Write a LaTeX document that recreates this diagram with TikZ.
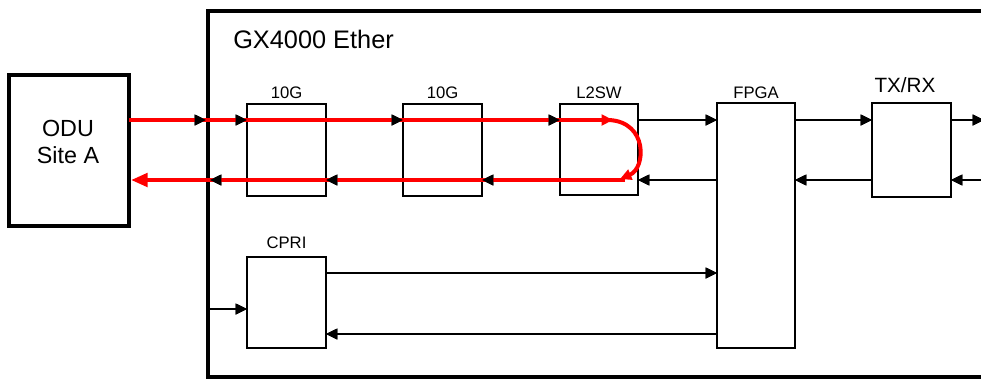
\documentclass[tikz,border=0pt]{standalone}
\usepackage{fontspec}
\setmainfont{Liberation Sans}
\usetikzlibrary{arrows.meta,calc}
\newcommand\blkconn[1]{%
  \draw[#1] (odu.east|-rt) -- (wall|-rt);
  \draw[#1] (wall|-rt) -- (g1.west|-rt);
  \draw[#1] (g1.east|-rt) -- (g2.west|-rt);
  \draw[#1] (g2.east|-rt) -- (l2.west|-rt);
  \draw[#1] (l2.east|-rt) -- (fpga.west|-rt);
  \draw[#1] (fpga.east|-rt) -- (txrx.west|-rt);
  \draw[#1] (txrx.east|-rt) -- (edge|-rt);
  \draw[#1] (far|-rb) -- (txrx.east|-rb);
  \draw[#1] (txrx.west|-rb) -- (fpga.east|-rb);
  \draw[#1] (fpga.west|-rb) -- (l2.east|-rb);
  \draw[#1] (l2.west|-rb) -- (g2.east|-rb);
  \draw[#1] (g2.west|-rb) -- (g1.east|-rb);
  \draw[#1] (g1.west|-rb) -- (wallr|-rb);
  \draw[#1] (wall|-ci) -- (cpri.west|-ci);
  \draw[#1] (cpri.east|-cu) -- (fpga.west|-cu);
  \draw[#1] (fpga.west|-cd) -- (cpri.east|-cd);
}
\begin{document}
\begin{tikzpicture}[x=0.75pt,y=-0.75pt,
  box/.style 2 args={draw, line width=1.1pt, minimum width=#1*0.75pt, minimum height=#2*0.75pt, inner sep=0pt, outer sep=0pt},
  lbl/.style={font=\fontsize{12.5}{14}\selectfont, inner sep=0pt},
  arr/.style={line width=1.1pt, -{Triangle[length=8.5pt,width=8pt]}},
  tiponly/.style={arr, dash pattern=on 0pt off 3000pt},
  redl/.style={red, line width=3pt, -{Triangle[length=8.5pt,width=8pt]}},
  redbig/.style={red, line width=3pt, shorten >=1.5pt, -{Triangle[length=12.5pt,width=10pt]}},
  frame/.style={line width=3.2pt, line join=miter},
]
\useasboundingbox (0,0) rectangle (981,379);
\draw[frame] (995,11) -- (208,11) -- (208,377) -- (995,377);
\node[anchor=base west, font=\fontsize{19}{22}\selectfont, inner sep=0pt] (title) at (233,48) {GX4000 Ether};
\node[box={120}{151}, line width=3pt] (odu) at (69,150.5) {};
\node[font=\fontsize{17.5}{20.5}\selectfont, align=center, inner sep=0pt] (odutxt) at (68,142) {ODU\\Site A};
\node[box={79}{92}, label={[lbl,label distance=3.5pt]north:10G}] (g1) at (286.5,150) {};
\node[box={79}{92}, label={[lbl,label distance=3.5pt]north:10G}] (g2) at (442.5,150) {};
\node[box={78}{91}, label={[lbl,label distance=4pt]north:L2SW}] (l2) at (599,149.5) {};
\node[box={78}{245}, label={[lbl,label distance=3pt]north:FPGA}] (fpga) at (756,225.5) {};
\node[box={79}{94}] (txrx) at (911.5,150) {};
\node[anchor=base, font=\fontsize{15.5}{18}\selectfont, inner sep=0pt] (txl) at (905,92) {TX/RX};
\node[box={79}{91}, label={[lbl,label distance=6pt]north:CPRI}] (cpri) at (286.5,302.5) {};
\coordinate (rt) at (0,120);
\coordinate (rb) at (0,180);
\coordinate (cu) at (0,273);
\coordinate (cd) at (0,334);
\coordinate (ci) at (0,309);
\coordinate (wall) at (206,0);
\coordinate (wallr) at (210,0);
\coordinate (edge) at (984,0);
\coordinate (far) at (995,0);
\blkconn{arr}
\coordinate (rtip) at (613,120);
\coordinate (rs) at (609,120);
\coordinate (re) at (620,179);
\coordinate (rb0) at (625,180);
\draw[redl] (odu.east|-rt) -- (rtip);
\draw[redl] (rs) .. controls (648,122) and (646,168) .. (re);
\draw[redbig] (rb0) -- (odu.east|-rb);
\blkconn{tiponly}
\end{tikzpicture}
\end{document}
